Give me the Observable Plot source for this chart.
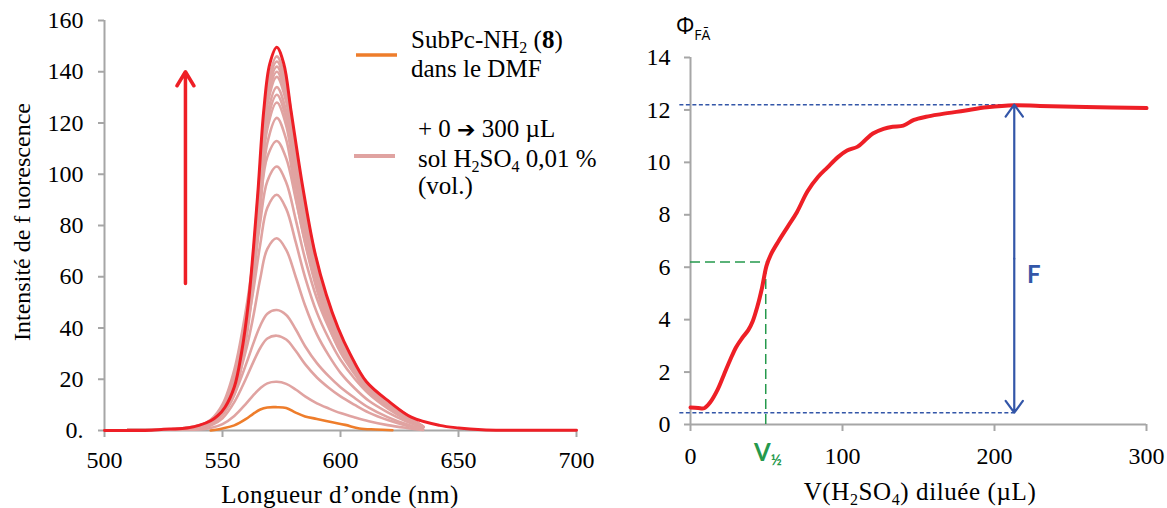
<!DOCTYPE html>
<html><head><meta charset="utf-8">
<script src="https://cdn.jsdelivr.net/npm/d3@7"></script>
<script src="https://cdn.jsdelivr.net/npm/@observablehq/plot@0.6"></script>
<style>
html,body{margin:0;padding:0;background:#fff;}
#wrap{position:relative;width:1167px;height:508px;overflow:hidden;background:#fff;}
#wrap > svg{position:absolute;top:0;}
</style></head><body><div id="wrap"></div>
<script>
// ---------- Left chart data: fluorescence spectra ----------
const xTicksL = [500, 550, 600, 650, 700];
const yTicksL = [0, 20, 40, 60, 80, 100, 120, 140, 160];
const yTickLabelsL = ["0.", "20", "40", "60", "80", "100", "120", "140", "160"];

const wlRed = [500, 510, 520, 525, 530, 535, 540, 545, 548, 551, 555, 558, 561, 563, 565, 567.5, 570, 573, 576, 579, 584, 589, 594, 599, 604, 611, 621, 630, 642, 650, 660, 670, 700];
const redSpectrum = [0, 0, 0.1, 0.5, 0.6, 1.0, 2.0, 3.8, 5.8, 9, 17, 30, 50, 70, 93, 125, 143, 149.6, 143, 125, 95, 70, 53, 40, 30, 19, 11, 5.2, 2, 1, 0.3, 0.1, 0.1];

const wlOrange = [545, 550, 555, 560, 563, 566, 569, 573, 577, 581, 585, 590, 596, 602, 608, 615, 622];
const orangeSpectrum = [0, 0.8, 2, 4.5, 6.5, 8.2, 9, 9.1, 8.8, 7, 5.5, 4.5, 3.3, 2.2, 0.8, 0.4, 0.1];

const wlPink = [510, 530, 540, 545, 550, 555, 560, 563, 566, 569, 573, 577, 581, 585, 590, 595, 600, 606, 612, 620, 628, 635];
const pinkSpectra = [
  [0.5, 0.5, 0.4, 1.0, 2.5, 5.7, 10.5, 13.7, 16.5, 18.4, 19, 18.2, 16, 13.3, 10.6, 8.6, 6.8, 5.1, 3.6, 2.1, 1.0, 0.2],
  [0.5, 0.5, 0.7, 1.9, 4.8, 11.1, 20.4, 26.6, 32.2, 35.9, 37, 35.5, 31.1, 25.9, 20.7, 16.7, 13.3, 10, 7, 4.1, 1.9, 0.4],
  [0.5, 0.5, 0.9, 2.4, 6.1, 14.1, 25.9, 33.8, 40.9, 45.6, 47, 45.1, 39.5, 32.9, 26.3, 21.2, 16.9, 12.7, 8.9, 5.2, 2.4, 0.5],
  [0.5, 0.5, 1.2, 2.8, 6.8, 15.8, 31.5, 44.3, 59.3, 70.9, 75, 70.5, 60, 48.8, 37.5, 29.3, 22.5, 16.5, 11.6, 7.1, 3.5, 1.1],
  [0.5, 0.5, 1.5, 3.4, 8.3, 19.3, 38.6, 54.3, 72.7, 86.9, 92, 86.5, 73.6, 59.8, 46, 35.9, 27.6, 20.2, 14.3, 8.6, 4.2, 1.4],
  [0.5, 0.5, 1.6, 3.8, 9.3, 21.6, 43.3, 60.8, 81.4, 97.3, 103, 96.8, 82.4, 67, 51.5, 40.2, 30.9, 22.7, 16, 9.7, 4.7, 1.5],
  [0.5, 0.6, 1.8, 4.2, 10.2, 23.7, 47.5, 66.7, 89.3, 106.8, 113, 106.2, 90.4, 73.5, 56.5, 44.1, 33.9, 24.9, 17.5, 10.6, 5.2, 1.7],
  [0.5, 0.5, 1.6, 3.1, 6.3, 13.9, 35.4, 57.1, 86.6, 112.2, 122, 113.5, 91.5, 73.2, 54.9, 40.9, 30.5, 22, 14.6, 9.5, 5.1, 1.2],
  [0.5, 0.5, 1.7, 3.2, 6.7, 14.6, 37.1, 59.9, 90.9, 117.8, 128, 119, 96, 76.8, 57.6, 42.9, 32, 23, 15.4, 10, 5.4, 1.3],
  [0.5, 0.5, 1.7, 3.3, 6.8, 14.9, 38, 61.3, 93, 120.5, 131, 121.8, 98.3, 78.6, 59, 43.9, 32.8, 23.6, 15.7, 10.2, 5.5, 1.3],
  [0.5, 0.5, 1.7, 3.4, 7, 15.3, 38.9, 62.7, 95.1, 123.3, 134, 124.6, 100.5, 80.4, 60.3, 44.9, 33.5, 24.1, 16.1, 10.5, 5.6, 1.3],
  [0.5, 0.6, 1.8, 3.5, 7.2, 15.7, 40, 64.6, 98, 127, 138, 128.3, 103.5, 82.8, 62.1, 46.2, 34.5, 24.8, 16.6, 10.8, 5.8, 1.4],
  [0.5, 0.6, 1.8, 3.5, 7.3, 16, 40.6, 65.5, 99.4, 128.8, 140, 130.2, 105, 84, 63, 46.9, 35, 25.2, 16.8, 10.9, 5.9, 1.4],
  [0.5, 0.6, 1.8, 3.6, 7.4, 16.2, 41.2, 66.5, 100.8, 130.6, 142, 132.1, 106.5, 85.2, 63.9, 47.6, 35.5, 25.6, 17, 11.1, 6, 1.4],
  [0.5, 0.6, 1.9, 3.6, 7.5, 16.4, 41.8, 67.4, 102.2, 132.5, 144, 133.9, 108, 86.4, 64.8, 48.2, 36, 25.9, 17.3, 11.2, 6, 1.4],
  [0.5, 0.6, 1.9, 3.7, 7.6, 16.6, 42.3, 68.3, 103.7, 134.3, 146, 135.8, 109.5, 87.6, 65.7, 48.9, 36.5, 26.3, 17.5, 11.4, 6.1, 1.5]
];
// titration arrow (read positions, data space)
const titrationArrow = [{wl: 534.3, from: 57.4, to: 140}];

// ---------- Right chart data: Φ vs added volume ----------
const xTicksR = [0, 100, 200, 300];
const yTicksR = [0, 2, 4, 6, 8, 10, 12, 14];
const volume = [0, 5, 9, 13, 18, 22, 26, 30, 34, 38, 41, 44, 47, 50, 53, 58, 64, 70, 77, 84, 90, 97, 103, 110, 115, 120, 127, 133, 140, 147, 155, 165, 180, 195, 213, 230, 260, 300];
const phi = [0.65, 0.63, 0.62, 0.85, 1.35, 1.9, 2.45, 2.95, 3.3, 3.6, 3.95, 4.5, 5.2, 6.05, 6.5, 7.0, 7.55, 8.1, 8.9, 9.45, 9.8, 10.2, 10.45, 10.6, 10.85, 11.1, 11.28, 11.36, 11.4, 11.62, 11.74, 11.84, 11.97, 12.1, 12.18, 12.15, 12.11, 12.07];
const fTop = 12.2, fBottom = 0.45, fVolume = 213, fStart = -7;
const vHalf = 49.5, phiHalf = 6.2;

// ---------- styles ----------
const grey = "#a6a6a6";
const pinkC = "#e0a3a1", orangeC = "#ee7d2b", redC = "#ee1f26";
const blueC = "#3356a8", greenC = "#25994c";
const serif = "'Liberation Serif', 'Times New Roman', serif";

const spectraRows = pinkSpectra.flatMap((row, i) => row.map((v, j) => ({wl: wlPink[j], v, s: i})));
const redRows = wlRed.map((wl, i) => ({wl, v: redSpectrum[i]}));
const orangeRows = wlOrange.map((wl, i) => ({wl, v: orangeSpectrum[i]}));
const phiRows = volume.map((V, i) => ({V, p: phi[i]}));

const tickText = {fontFamily: serif, fontSize: 24, fill: "black"};

const left = Plot.plot({
  width: 600, height: 508, marginLeft: 104, marginRight: 24, marginTop: 20, marginBottom: 78,
  style: {fontFamily: serif, fontSize: "24px", background: "transparent", overflow: "visible", color: "black"},
  x: {domain: [500, 700]},
  y: {domain: [0, 160]},
  marks: [
    Plot.ruleX([500], {y1: 0, y2: 160, stroke: grey, strokeWidth: 2}),
    Plot.axisX({ticks: xTicksL, tickSize: 7, tickPadding: 13, stroke: grey, strokeWidth: 2, label: null, tickFormat: d => String(d), ...tickText}),
    Plot.axisY({ticks: yTicksL, tickSize: 6, tickPadding: 15, stroke: grey, strokeWidth: 2, label: null, tickFormat: d => yTickLabelsL[yTicksL.indexOf(d)], ...tickText}),
    Plot.ruleY([0], {x1: 500, x2: 700, stroke: grey, strokeWidth: 2}),
    Plot.line(spectraRows, {x: "wl", y: "v", z: "s", stroke: pinkC, strokeWidth: 2.6, curve: "catmull-rom"}),
    Plot.line(orangeRows, {x: "wl", y: "v", stroke: orangeC, strokeWidth: 2.6, curve: "catmull-rom"}),
    Plot.line(redRows, {x: "wl", y: "v", stroke: redC, strokeWidth: 3, curve: "catmull-rom"}),
    Plot.arrow(titrationArrow, {x1: "wl", x2: "wl", y1: "from", y2: "to", stroke: redC, strokeWidth: 3.5, headLength: 7, headAngle: 62})
  ]
});
left.style.left = "0px";

const right = Plot.plot({
  width: 567, height: 508, marginLeft: 90, marginRight: 21, marginTop: 57, marginBottom: 84,
  style: {fontFamily: serif, fontSize: "24px", background: "transparent", overflow: "visible", color: "black"},
  x: {domain: [0, 300]},
  y: {domain: [0, 14]},
  marks: [
    Plot.ruleX([0], {y1: 0, y2: 14, stroke: grey, strokeWidth: 2}),
    Plot.ruleY([0], {x1: 0, x2: 300, stroke: grey, strokeWidth: 2}),
    Plot.axisX({ticks: xTicksR, tickSize: 7, tickPadding: 15, stroke: grey, strokeWidth: 2, label: null, tickFormat: d => String(d), ...tickText}),
    Plot.axisY({ticks: yTicksR, tickSize: 6, tickPadding: 14, stroke: grey, strokeWidth: 2, label: null, tickFormat: d => String(d), ...tickText}),
    Plot.ruleY([fTop, fBottom], {x1: fStart, x2: fVolume, stroke: blueC, strokeWidth: 1.5, strokeDasharray: "4,2.5"}),
    Plot.ruleY([phiHalf], {x1: 0, x2: vHalf, stroke: greenC, strokeWidth: 1.5, strokeDasharray: "10,5"}),
    Plot.ruleX([vHalf], {y1: 0, y2: phiHalf, stroke: greenC, strokeWidth: 1.5, strokeDasharray: "10,5"}),
    Plot.line(phiRows, {x: "V", y: "p", stroke: redC, strokeWidth: 4, curve: "catmull-rom"}),
    Plot.arrow([{V: fVolume, a: (fTop + fBottom) / 2, b: fTop}, {V: fVolume, a: (fTop + fBottom) / 2, b: fBottom}],
      {x1: "V", x2: "V", y1: "a", y2: "b", stroke: blueC, strokeWidth: 2.2, headLength: 10, headAngle: 72})
  ]
});
right.style.left = "600px";

const wrap = document.getElementById("wrap");
wrap.appendChild(left);
wrap.appendChild(right);
d3.selectAll([left, right]).selectAll("text").attr("font-family", serif);

// ---------- text overlay (titles, legend, annotations) ----------
const ov = d3.create("svg").attr("width", 1167).attr("height", 508)
  .style("position", "absolute").style("left", "0px").style("top", "0px")
  .attr("font-family", serif).attr("font-size", 25).attr("fill", "black");

function addText(x, y, parts, attrs = {}) {
  const t = ov.append("text").attr("x", x).attr("y", y);
  for (const [k, v] of Object.entries(attrs)) t.attr(k, v);
  for (const p of parts) {
    const [str, opt = {}] = Array.isArray(p) ? p : [p];
    const ts = t.append("tspan").text(str);
    if (opt.sub) ts.attr("dy", opt.dy || 5).attr("font-size", opt.size || 16);
    if (opt.up) ts.attr("dy", -(opt.up));
    if (opt.bold) ts.attr("font-weight", "bold");
    if (opt.family) ts.attr("font-family", opt.family);
    if (opt.fs) ts.attr("font-size", opt.fs);
  }
  return t;
}

// axis titles
addText(0, 0, ["Intensité de f uorescence"], {"text-anchor": "middle", "font-size": 24, transform: "translate(30,222) rotate(-90)"});
addText(340, 503, ["Longueur d’onde (nm)"], {"text-anchor": "middle", "letter-spacing": 0.5});
addText(920, 500, ["V(H", ["2", {sub: true}], ["SO", {up: 5}], ["4", {sub: true}], [") diluée (µL)", {up: 5}]], {"text-anchor": "middle", "letter-spacing": 0.6});

// legend
ov.append("line").attr("x1", 356).attr("x2", 397).attr("y1", 55).attr("y2", 55).attr("stroke", orangeC).attr("stroke-width", 3.5);
ov.append("line").attr("x1", 354).attr("x2", 395).attr("y1", 156).attr("y2", 156).attr("stroke", pinkC).attr("stroke-width", 4);
addText(411, 48, ["SubPc-NH", ["2", {sub: true}], [" (", {up: 5}], ["8", {bold: true}], ")"]);
addText(411, 77, ["dans le DMF"]);
addText(418, 137, ["+ 0 ", ["➔", {family: "'DejaVu Sans', sans-serif", fs: 22}], " 300 µL"]);
addText(418, 167, ["sol H", ["2", {sub: true}], ["SO", {up: 5}], ["4", {sub: true}], [" 0,01 %", {up: 5}]]);
addText(418, 194, ["(vol.)"]);

// right annotations
addText(676, 34, ["Φ", ["FĀ", {sub: true, dy: 6, size: 14}]], {"font-family": "'Open Sans', sans-serif", "font-size": 23});
addText(1027, 283, ["F"], {"font-family": "Lato, 'Open Sans', sans-serif", "font-size": 24, "font-weight": "bold", fill: blueC});
addText(754, 461, ["V", ["½", {sub: true, dy: 4, size: 15}]], {"font-family": "Lato, 'Open Sans', sans-serif", "font-size": 24, "font-weight": "bold", fill: greenC});

wrap.appendChild(ov.node());
</script></body></html>
